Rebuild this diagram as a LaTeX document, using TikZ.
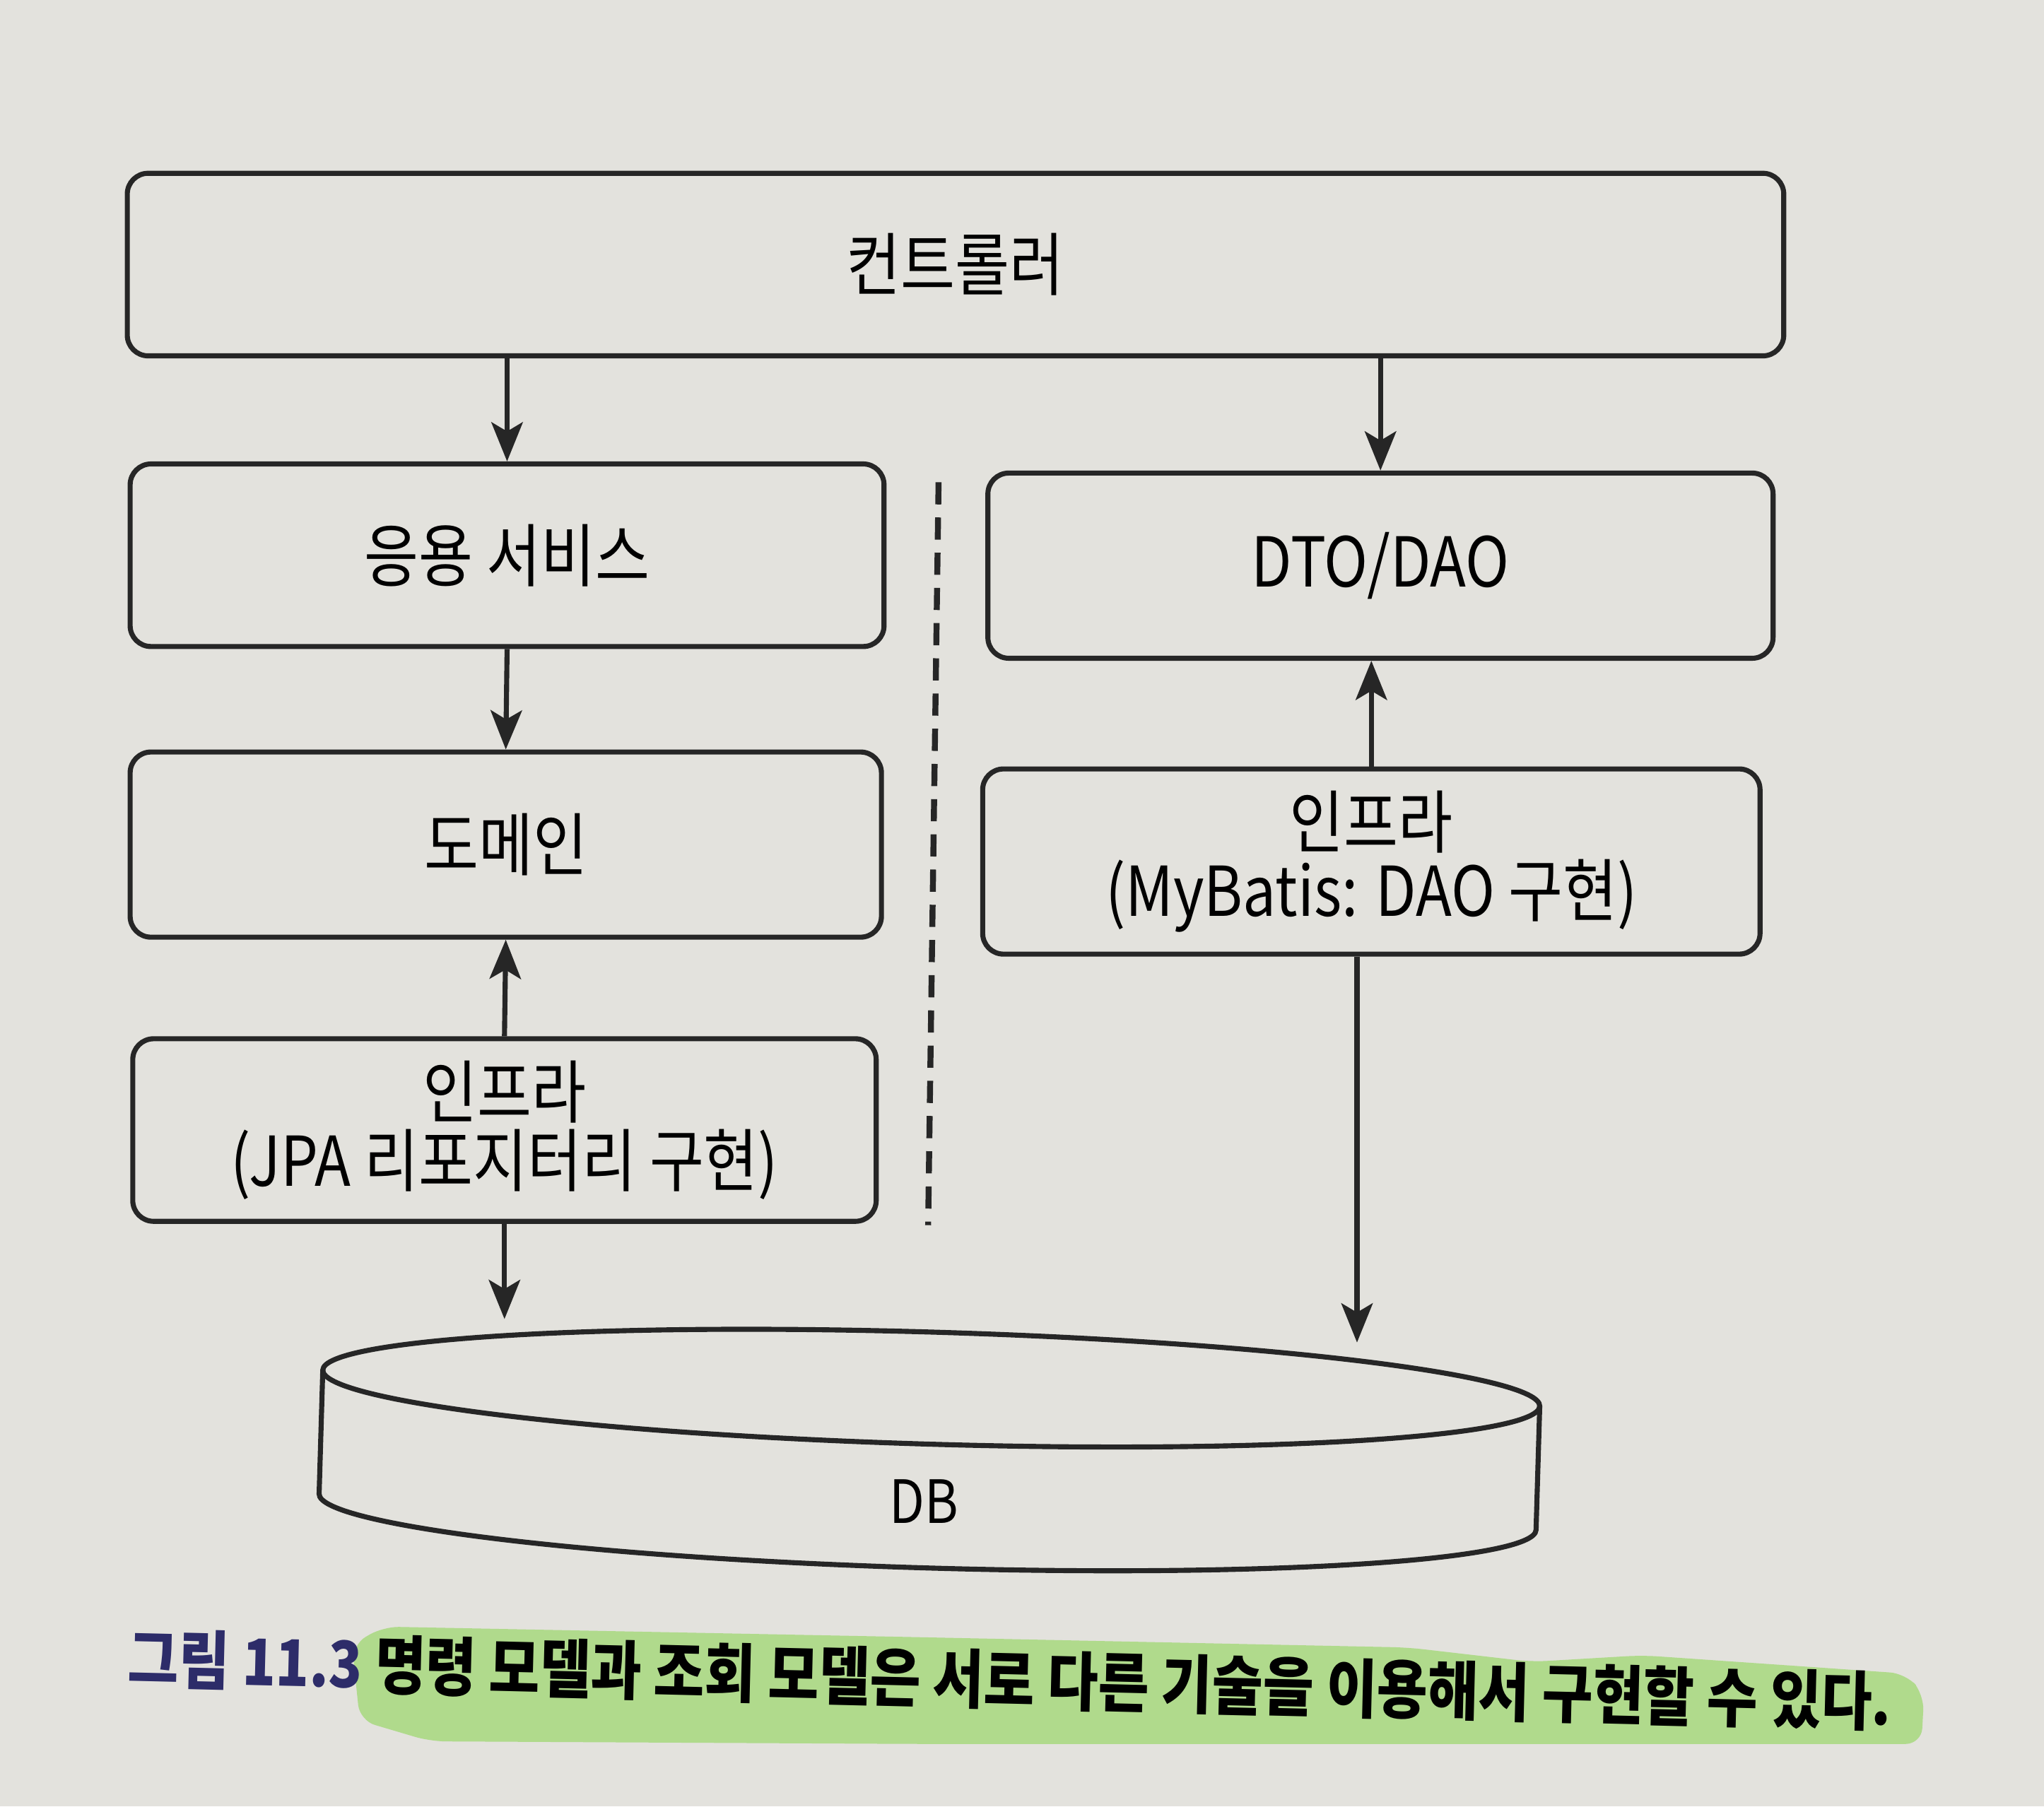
\documentclass[tikz,border=0pt]{standalone}
\usepackage{fontspec}
\setmainfont{Noto Sans CJK KR}[FakeStretch=0.86]
\usetikzlibrary{arrows.meta}

\definecolor{paper}{RGB}{227,226,221}
\definecolor{ink}{RGB}{38,38,38}
\definecolor{navy}{RGB}{45,44,105}
\definecolor{marker}{RGB}{176,218,140}

\begin{document}
\begin{tikzpicture}[x=0.01cm,y=-0.01cm,
  layer/.style={draw=ink,line width=1.1pt,rounded corners=0.16cm,minimum height=1.4cm,
    font=\fontsize{15}{15}\selectfont,align=center,inner sep=0pt},
  flow/.style={draw=ink,line width=1.1pt,-{Stealth[length=0.3cm,width=0.24cm,inset=0.07cm]}}]
\fill[paper](0,0) rectangle (1568,1386);
% layers
\node[layer,minimum width=12.7cm] (ctrl) at (733,203) {컨트롤러};
\node[layer,minimum width=5.78cm] (svc) at (389,426) {응용 서비스};
\node[layer,minimum width=6.02cm,minimum height=1.42cm] (dto) at (1059,434) {DTO/DAO};
\node[layer,minimum width=5.76cm,minimum height=1.42cm] (dom) at (388,648) {도메인};
\node[layer,minimum width=5.96cm,minimum height=1.42cm] (infraR) at (1052,661) {인프라\\(MyBatis: DAO 구현)};
\node[layer,minimum width=5.7cm] (infraL) at (387,867) {인프라\\(JPA 리포지터리 구현)};
% separator
\draw[ink,line width=1.3pt,dash pattern=on 0.17cm off 0.1cm] (720,370) -- (712,940);
% DB
\begin{scope}[rotate around={-1.7:(713,1112)}]
\draw[ink,line width=1.1pt] (713,1065) ellipse (467 and 43);
\draw[ink,line width=1.1pt] (246,1065) -- (246,1160) arc[start angle=180,end angle=0,x radius=467,y radius=43] -- (1180,1065);
\end{scope}
\node[font=\fontsize{13}{13}\selectfont] (db) at (709,1152) {DB};
\coordinate (dbL) at (387,1012);
\coordinate (dbR) at (1041,1030);
% arrows
\draw[flow] (svc.north |- ctrl.south) -- (svc.north);
\draw[flow] (dto.north |- ctrl.south) -- (dto.north);
\draw[flow] (svc.south) -- (dom.north);
\draw[flow] (infraL.north) -- (dom.south);
\draw[flow] (infraR.north) -- (infraR.north |- dto.south);
\draw[flow] (infraL.south) -- (dbL);
\draw[flow] (infraR.south -| dbR) -- (dbR);
% caption
\fill[marker,rounded corners=0.12cm] (270,1262) -- (294,1248) -- (700,1256) -- (1080,1264)
  -- (1175,1275) -- (1260,1270) -- (1462,1284) -- (1476,1300) -- (1474,1338)
  -- (1100,1338) -- (700,1338) -- (330,1336) -- (276,1320) -- cycle;
\node[anchor=west,rotate=-1.4,font=\fontsize{14}{14}\selectfont\bfseries] (cap) at (86,1272)
  {{\color{navy}그림 11.3} 명령 모델과 조회 모델은 서로 다른 기술을 이용해서 구현할 수 있다.};
\end{tikzpicture}
\end{document}
